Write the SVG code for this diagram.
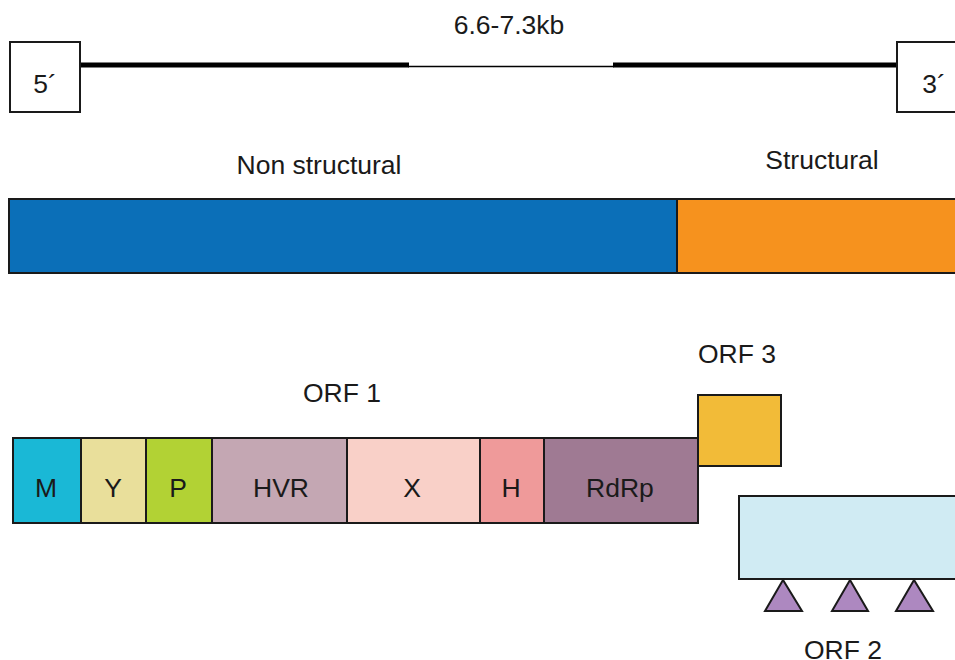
<svg xmlns="http://www.w3.org/2000/svg" width="955" height="660" viewBox="0 0 955 660">
<style>
text{font-family:"Liberation Sans",Arial,sans-serif;font-size:26.5px;fill:#1a1a1a;text-anchor:middle}
.b{stroke:#1a1a1a;stroke-width:2}
</style>
<rect width="955" height="660" fill="#fff"/>
<g id="genome">
<line x1="80" y1="65" x2="409" y2="65" stroke="#000" stroke-width="5"/>
<line x1="408" y1="66.5" x2="614" y2="66.5" stroke="#000" stroke-width="1.5"/>
<line x1="613" y1="65" x2="898" y2="65" stroke="#000" stroke-width="5"/>
<text x="509" y="34">6.6-7.3kb</text>
</g>
<g id="five-prime"><rect class="b" x="10" y="42" width="70" height="70" fill="#fff"/><text x="45" y="93">5´</text></g>
<g id="three-prime"><rect class="b" x="897" y="42" width="70" height="70" fill="#fff"/><text x="934" y="93">3´</text></g>
<g id="nonstructural"><text x="319" y="174">Non structural</text><rect class="b" x="9" y="199" width="668" height="74" fill="#0b6fb8"/></g>
<g id="structural"><text x="822" y="169">Structural</text><rect class="b" x="677" y="199" width="290" height="74" fill="#f6921e"/></g>
<g id="orf1">
<text x="342" y="402">ORF 1</text>
<g id="M"><rect class="b" x="13" y="438" width="68" height="85" fill="#1ab8d6"/><text x="46" y="497">M</text></g>
<g id="Y"><rect class="b" x="81" y="438" width="65" height="85" fill="#e9df9b"/><text x="113" y="497">Y</text></g>
<g id="P"><rect class="b" x="146" y="438" width="66" height="85" fill="#b2d234"/><text x="178" y="497">P</text></g>
<g id="HVR"><rect class="b" x="212" y="438" width="135" height="85" fill="#c4a7b3"/><text x="281" y="497">HVR</text></g>
<g id="X"><rect class="b" x="347" y="438" width="133" height="85" fill="#f9d0c8"/><text x="412" y="497">X</text></g>
<g id="H"><rect class="b" x="480" y="438" width="64" height="85" fill="#ef9a9a"/><text x="511" y="497">H</text></g>
<g id="RdRp"><rect class="b" x="544" y="438" width="154" height="85" fill="#9f7a93"/><text x="620" y="497">RdRp</text></g>
</g>
<g id="orf3"><text x="737" y="363">ORF 3</text><rect class="b" x="698" y="395" width="83" height="71" fill="#f2bb38"/></g>
<g id="orf2">
<rect class="b" x="739" y="496" width="230" height="83" fill="#d0ebf3"/>
<polygon class="b" points="783,580 765,611 802,611" fill="#ad88c0"/>
<polygon class="b" points="850,580 832,611 868,611" fill="#ad88c0"/>
<polygon class="b" points="914,580 896,611 933,611" fill="#ad88c0"/>
<text x="843" y="659">ORF 2</text>
</g>
<g id="connectors"></g>
</svg>
